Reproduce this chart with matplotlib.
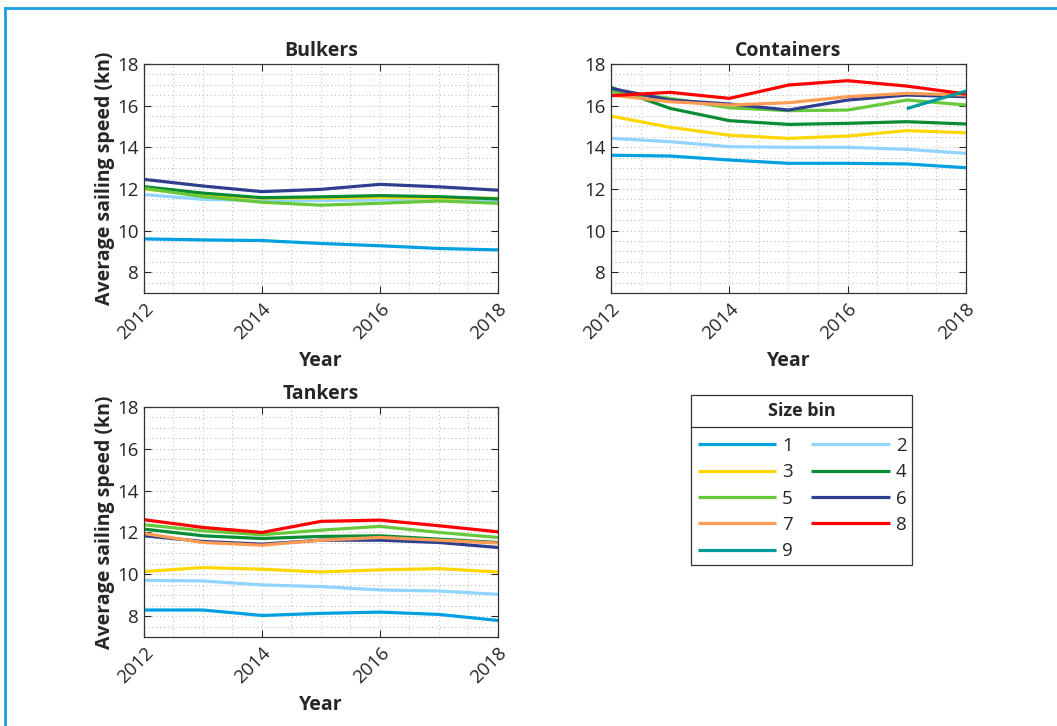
import numpy as np
import matplotlib
matplotlib.use('Agg')
import matplotlib.pyplot as plt
from matplotlib.lines import Line2D
from matplotlib.patches import Rectangle

plt.rcParams['font.family'] = ['Open Sans', 'DejaVu Sans']

years = [2012, 2013, 2014, 2015, 2016, 2017, 2018]
size_bins = ['1', '2', '3', '4', '5', '6', '7', '8', '9']
bin_colors = ['#00a0e3', '#90d4ff', '#ffd700', '#0a8c35', '#66c83a',
              '#2e3f8f', '#ff9b52', '#ff0000', '#00999c']

# speeds (kn) per size bin, NaN where a bin has no ships
bulkers = {
    '1': [9.60, 9.55, 9.52, 9.38, 9.27, 9.14, 9.07],
    '2': [11.73, 11.50, 11.44, 11.44, 11.47, 11.45, 11.42],
    '3': [12.00, 11.70, 11.56, 11.56, 11.60, 11.56, 11.55],
    '4': [12.11, 11.80, 11.58, 11.62, 11.68, 11.63, 11.52],
    '5': [12.03, 11.63, 11.36, 11.22, 11.31, 11.42, 11.31],
    '6': [12.46, 12.14, 11.87, 11.98, 12.22, 12.10, 11.94],
}
containers = {
    '1': [13.62, 13.58, 13.39, 13.23, 13.23, 13.20, 13.02],
    '2': [14.43, 14.27, 14.03, 14.00, 14.00, 13.90, 13.71],
    '3': [15.50, 14.96, 14.58, 14.43, 14.54, 14.80, 14.70],
    '4': [16.88, 15.87, 15.28, 15.10, 15.15, 15.23, 15.12],
    '5': [16.67, 16.35, 15.90, 15.76, 15.79, 16.27, 16.03],
    '6': [16.83, 16.27, 16.08, 15.79, 16.27, 16.51, 16.43],
    '7': [16.51, 16.19, 16.03, 16.14, 16.43, 16.59, 16.51],
    '8': [16.48, 16.64, 16.35, 16.99, 17.20, 16.94, 16.56],
    '9': [np.nan, np.nan, np.nan, np.nan, np.nan, 15.86, 16.70],
}
tankers = {
    '1': [8.29, 8.29, 8.03, 8.13, 8.19, 8.08, 7.79],
    '2': [9.71, 9.68, 9.49, 9.41, 9.25, 9.20, 9.04],
    '3': [10.13, 10.32, 10.24, 10.11, 10.21, 10.27, 10.11],
    '4': [12.16, 11.84, 11.71, 11.81, 11.84, 11.68, 11.52],
    '5': [12.37, 12.08, 11.89, 12.11, 12.29, 12.00, 11.76],
    '6': [11.84, 11.57, 11.44, 11.63, 11.63, 11.52, 11.28],
    '7': [11.95, 11.52, 11.39, 11.63, 11.76, 11.63, 11.49],
    '8': [12.61, 12.24, 12.00, 12.53, 12.59, 12.32, 12.03],
}

txt = '#262626'
fig = plt.figure(figsize=(10.57, 7.26), dpi=100)

panels = [
    ('Bulkers', bulkers, [0.1362, 0.5964, 0.3349, 0.3154], True),
    ('Containers', containers, [0.5780, 0.5964, 0.3359, 0.3154], False),
    ('Tankers', tankers, [0.1362, 0.1226, 0.3349, 0.3168], True),
]

handles = {}
for title, data, pos, show_ylabel in panels:
    ax = fig.add_axes(pos)
    for name, vals in data.items():
        c = bin_colors[size_bins.index(name)]
        ln, = ax.plot(years, vals, color=c, lw=2.3, solid_capstyle='butt')
        handles[name] = ln
    ax.set_xlim(2012, 2018)
    ax.set_ylim(7, 18)
    ax.set_xticks([2012, 2014, 2016, 2018])
    ax.set_yticks([8, 10, 12, 14, 16, 18])
    ax.set_xticks(np.arange(2012, 2018.01, 0.5), minor=True)
    ax.set_yticks(np.arange(7, 18.01, 0.5), minor=True)
    ax.grid(True, which='both', ls=(0, (1, 3)), lw=0.7, color='#b4b4b4')
    ax.set_axisbelow(True)
    ax.tick_params(which='major', direction='in', length=5, width=0.8,
                   labelsize=13.5, colors=txt, top=True, right=True)
    ax.tick_params(axis='x', which='major', pad=5)
    ax.tick_params(which='minor', length=0, top=True, right=True)
    for lab in ax.get_xticklabels():
        lab.set_rotation(45)
        lab.set_ha('right')
        lab.set_rotation_mode('anchor')
    for sp in ax.spines.values():
        sp.set_color('#333333')
        sp.set_linewidth(0.9)
    ax.set_title(title, fontsize=14, fontweight='bold', color=txt, pad=6)
    ax.set_xlabel('Year', fontsize=14, fontweight='bold', color=txt, labelpad=6)
    if show_ylabel:
        ax.set_ylabel('Average sailing speed (kn)', fontsize=14,
                      fontweight='bold', color=txt, labelpad=2)

# legend box with separated title, entries row by row
leg_l, leg_r, leg_b, leg_t = 0.6537, 0.8628, 0.2218, 0.4559
fig.add_artist(Rectangle((leg_l, leg_b), leg_r - leg_l, leg_t - leg_b,
                         transform=fig.transFigure, fill=False,
                         ec='#333333', lw=0.9))
fig.add_artist(Line2D([leg_l, leg_r], [0.4118, 0.4118],
                      transform=fig.transFigure, color='#333333', lw=0.9))
fig.text((leg_l + leg_r) / 2, 0.434, 'Size bin', ha='center', va='center',
         fontsize=13, fontweight='bold', color=txt)
order = ['1', '3', '5', '7', '9', '2', '4', '6', '8']
fig.legend([handles[k] for k in order], order, loc='upper left',
           bbox_to_anchor=(0.6537, 0.4075), ncol=2, frameon=False,
           fontsize=13.5, handlelength=4.2, handletextpad=0.3,
           columnspacing=1.0, labelspacing=0.45, borderaxespad=0,
           borderpad=0.35, labelcolor=txt)

# outer frame (top and left edges)
fig.add_artist(Line2D([0.0047, 1.0], [0.989, 0.989], transform=fig.transFigure,
                      color='#1a9fe0', lw=2))
fig.add_artist(Line2D([0.0047, 0.0047], [0.0, 0.989], transform=fig.transFigure,
                      color='#1a9fe0', lw=2))

fig.savefig('out.png', dpi=100)
